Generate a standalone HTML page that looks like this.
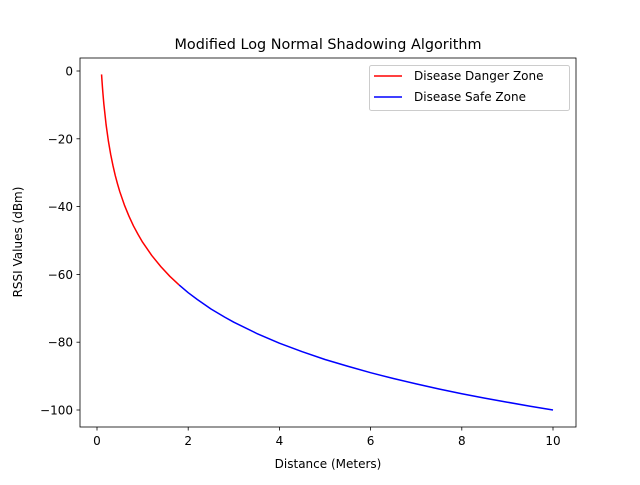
<!DOCTYPE html>
<html><head><meta charset="utf-8"><style>
body{margin:0;background:#fff}
svg text{font-family:"DejaVu Sans","Liberation Sans",sans-serif;fill:#000}
</style></head><body>
<svg id="chart" width="640" height="480" xmlns="http://www.w3.org/2000/svg">
<rect width="640" height="480" fill="#fff"/>
<text x="328" y="49" font-size="14.4" text-anchor="middle">Modified Log Normal Shadowing Algorithm</text>
<g id="plot"></g>
<rect x="80" y="58" width="496" height="369" fill="none" stroke="#000" stroke-width="0.8"/>
<g id="ticks"></g>
<text x="328" y="468" font-size="12" text-anchor="middle">Distance (Meters)</text>
<text x="22" y="242" font-size="12" text-anchor="middle" transform="rotate(-90 22 242)">RSSI Values (dBm)</text>
<g>
<rect x="369.5" y="65.5" width="200" height="45" rx="2" fill="#fff" fill-opacity="0.8" stroke="#ccc" stroke-width="1"/>
<g><line x1="374" y1="76" x2="402" y2="76" stroke="red" stroke-width="1.5"/><text x="414" y="80" font-size="12">Disease Danger Zone</text></g>
<g><line x1="374" y1="97" x2="402" y2="97" stroke="blue" stroke-width="1.5"/><text x="414" y="101" font-size="12">Disease Safe Zone</text></g>
</g>
</svg>
<script>
const dangerDist=[0.1,0.11,0.12,0.13,0.15,0.2,0.25,0.3,0.35,0.4,0.45,0.5,0.6,0.7,0.8,0.9,1.0,1.2,1.4,1.6,1.8];
const dangerRssi=[-1.0,-3.0,-4.9,-6.6,-9.7,-15.9,-20.7,-24.6,-27.9,-30.8,-33.3,-35.6,-39.5,-42.8,-45.7,-48.2,-50.5,-54.4,-57.7,-60.6,-63.1];
const safeDist=[1.8,2.0,2.2,2.5,2.8,3,3.5,4,4.5,5,5.5,6,6.5,7,7.5,8,8.5,9,9.5,10];
const safeRssi=[-63.1,-65.4,-67.4,-70.2,-72.6,-74.1,-77.4,-80.3,-82.8,-85.1,-87.1,-89.0,-90.7,-92.3,-93.8,-95.2,-96.5,-97.7,-98.9,-100];
const xTicks=[0,2,4,6,8,10];
const yTicks=[0,-20,-40,-60,-80,-100];
const yTickLabels=["0","\u221220","\u221240","\u221260","\u221280","\u2212100"];
const NS="http://www.w3.org/2000/svg";
const xs=v=>97+v*45.6;
const ys=v=>71-v*3.39;
const plot=document.getElementById('plot');
function line(dx,dy,color,name){
  const p=document.createElementNS(NS,'polyline');
  p.setAttribute('points',dx.map((d,i)=>xs(d)+','+ys(dy[i])).join(' '));
  p.setAttribute('fill','none');p.setAttribute('stroke',color);p.setAttribute('stroke-width','1.5');
  p.setAttribute('stroke-linejoin','round');
  
  
  plot.appendChild(p);
}
line(dangerDist,dangerRssi,'red','danger-zone-line');
line(safeDist,safeRssi,'blue','safe-zone-line');
const t=document.getElementById('ticks');
xTicks.forEach(v=>{
  const l=document.createElementNS(NS,'line');
  l.setAttribute('x1',xs(v));l.setAttribute('x2',xs(v));l.setAttribute('y1',427);l.setAttribute('y2',430.5);
  l.setAttribute('stroke','#000');l.setAttribute('stroke-width','0.8');
  
  
  t.appendChild(l);
  const tx=document.createElementNS(NS,'text');
  tx.setAttribute('x',xs(v));tx.setAttribute('y',445);tx.setAttribute('font-size','12');tx.setAttribute('text-anchor','middle');
  tx.textContent=String(v);
  
  
  t.appendChild(tx);
});
yTicks.forEach((v,i)=>{
  const l=document.createElementNS(NS,'line');
  l.setAttribute('x1',76.5);l.setAttribute('x2',80);l.setAttribute('y1',ys(v));l.setAttribute('y2',ys(v));
  l.setAttribute('stroke','#000');l.setAttribute('stroke-width','0.8');
  
  
  t.appendChild(l);
  const tx=document.createElementNS(NS,'text');
  tx.setAttribute('x',73);tx.setAttribute('y',ys(v)+4.5);tx.setAttribute('font-size','12');tx.setAttribute('text-anchor','end');
  tx.textContent=yTickLabels[i];
  
  
  t.appendChild(tx);
});
</script>
</body></html>
